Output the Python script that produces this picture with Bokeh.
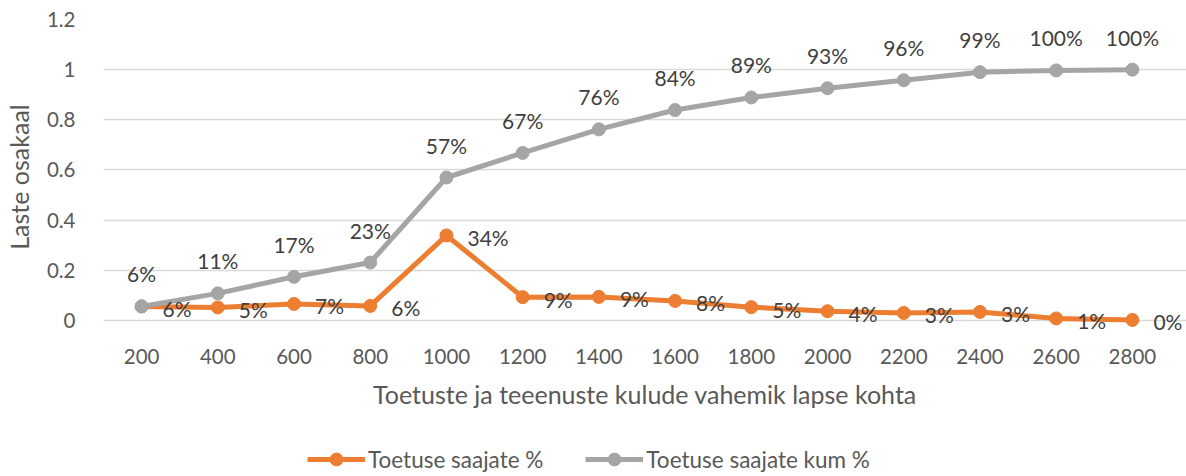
from bokeh.plotting import figure
from bokeh.layouts import column
from bokeh.models import (ColumnDataSource, Range1d, FixedTicker,
                          CustomJSTickFormatter, Legend, LegendItem, LabelSet)
from bokeh.core.properties import value
from bokeh.embed import file_html
from bokeh.resources import INLINE

categories = [200, 400, 600, 800, 1000, 1200, 1400, 1600,
              1800, 2000, 2200, 2400, 2600, 2800]
saajate = [0.056, 0.052, 0.066, 0.058, 0.339, 0.093, 0.094, 0.078,
           0.053, 0.037, 0.030, 0.034, 0.008, 0.002]
saajate_kum = [0.056, 0.108, 0.174, 0.231, 0.570, 0.668, 0.762, 0.839,
               0.889, 0.926, 0.958, 0.990, 0.997, 1.0]
y_ticks = [0, 0.2, 0.4, 0.6, 0.8, 1, 1.2]
series_names = ["Toetuse saajate %", "Toetuse saajate kum %"]

FONT = "Lato"
ORANGE = "#ED7D31"
GRAY = "#A5A5A5"

src = ColumnDataSource(dict(
    x=categories,
    a=saajate,
    b=saajate_kum,
    la=[f"{round(v * 100)}%" for v in saajate],
    lb=[f"{round(v * 100)}%" for v in saajate_kum],
))

step = categories[1] - categories[0]
x_lo = categories[0] - step / 2          # left edge of the category band
x_hi = categories[-1] + step / 2         # right edge of the category band
# frame extends a little past the band (to the right edge of the page) so the
# last data label is not clipped; grid lines stop at the band edge
x_end = x_lo + (x_hi - x_lo) * 1083 / 1067

p = figure(width=1186, height=416, output_backend="svg", toolbar_location=None,
           x_range=Range1d(x_lo, x_end),
           y_range=Range1d(-0.056, 1.2),
           min_border_left=103, min_border_right=0, min_border_top=19,
           min_border_bottom=82)
p.outline_line_color = None
p.background_fill_color = "white"
p.border_fill_color = "white"

p.xgrid.grid_line_color = None
p.ygrid.grid_line_color = "#D9D9D9"
p.ygrid.grid_line_width = 1.3
p.ygrid.bounds = (x_lo, x_hi)

p.xaxis.ticker = FixedTicker(ticks=categories)
p.xaxis.formatter = CustomJSTickFormatter(code="return tick.toFixed(0);")
p.yaxis.ticker = FixedTicker(ticks=y_ticks)
p.yaxis.formatter = CustomJSTickFormatter(code="return tick.toString();")
for ax in (p.xaxis[0], p.yaxis[0]):
    ax.axis_line_color = None
    ax.major_tick_line_color = None
    ax.minor_tick_line_color = None
    ax.major_label_text_font = FONT
    ax.major_label_text_font_size = "20.5px"
    ax.major_label_text_color = "#595959"
    ax.axis_label_text_font = FONT
    ax.axis_label_text_font_style = "normal"
    ax.axis_label_text_color = "#595959"
    ax.axis_label_text_font_size = "25px"

p.xaxis.major_label_standoff = 8
p.xaxis.axis_label = "Toetuste ja teeenuste kulude vahemik lapse kohta"
p.xaxis.axis_label_standoff = 12
p.yaxis.major_label_standoff = 22
p.yaxis.axis_label = "Laste osakaal"
p.yaxis.axis_label_standoff = 10

p.line("x", "a", source=src, line_color=ORANGE, line_width=5)
p.scatter("x", "a", source=src, size=13, fill_color=ORANGE, line_color=ORANGE)
p.line("x", "b", source=src, line_color=GRAY, line_width=5)
p.scatter("x", "b", source=src, size=13, fill_color=GRAY, line_color=GRAY)

p.add_layout(LabelSet(x="x", y="b", text="lb", source=src, text_font=value(FONT),
                      text_font_size="21px", text_color="#404040",
                      text_align="center", text_baseline="bottom", y_offset=20))
p.add_layout(LabelSet(x="x", y="a", text="la", source=src, text_font=value(FONT),
                      text_font_size="21px", text_color="#404040",
                      text_align="left", text_baseline="middle",
                      x_offset=21, y_offset=-2))

# legend strip below the chart (its renderers are hidden; only the legend shows)
lf = figure(width=1186, height=60, output_backend="svg", toolbar_location=None,
            x_range=Range1d(x_lo, x_end), y_range=Range1d(0, 1.2),
            min_border=0)
lf.axis.visible = False
lf.grid.visible = False
lf.outline_line_color = None
la = lf.line("x", "a", source=src, line_color=ORANGE, line_width=5, visible=False)
sa = lf.scatter("x", "a", source=src, size=13, fill_color=ORANGE, line_color=ORANGE, visible=False)
lb = lf.line("x", "b", source=src, line_color=GRAY, line_width=5, visible=False)
sb = lf.scatter("x", "b", source=src, size=13, fill_color=GRAY, line_color=GRAY, visible=False)

legend = Legend(items=[LegendItem(label=series_names[0], renderers=[la, sa]),
                       LegendItem(label=series_names[1], renderers=[lb, sb])],
                location=(204, 1), orientation="horizontal",
                glyph_width=58, glyph_height=32, label_standoff=3, spacing=42,
                padding=0, margin=0, border_line_alpha=0,
                background_fill_alpha=0, label_text_font=FONT,
                label_text_font_size="22.5px", label_text_color="#595959",
                click_policy="none")
lf.add_layout(legend, "center")

open("out.html", "w").write(file_html(column(p, lf), INLINE))
